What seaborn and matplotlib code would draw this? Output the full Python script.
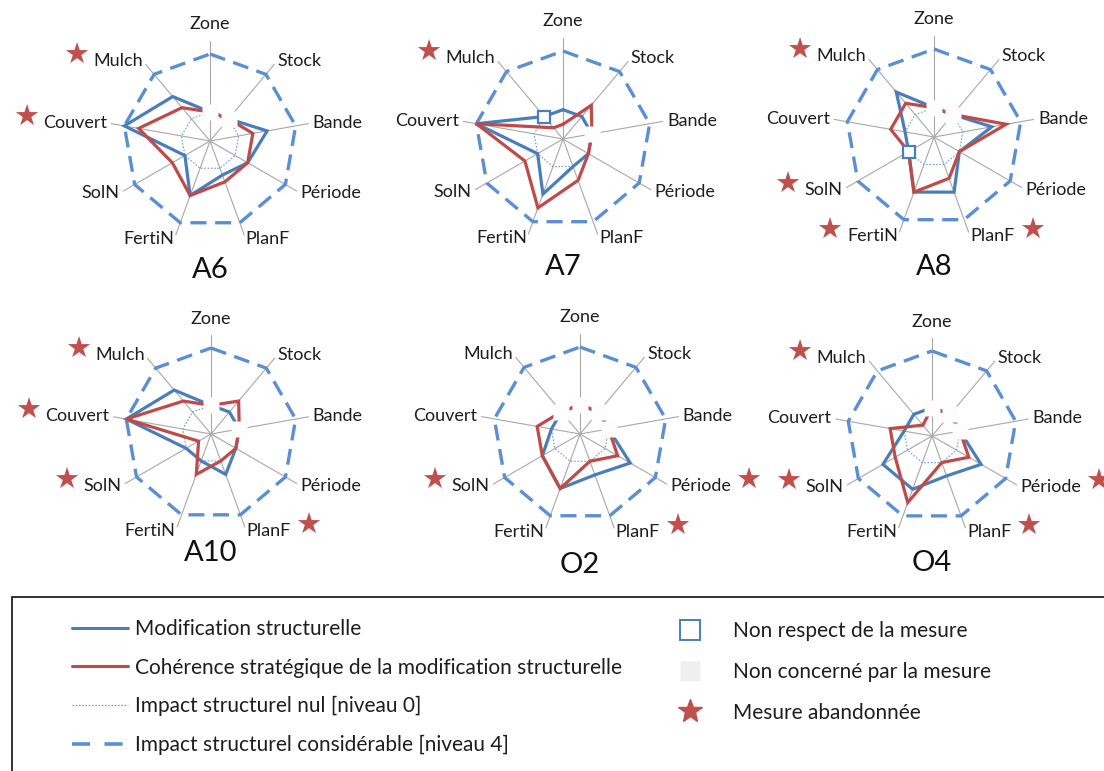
import numpy as np
import pandas as pd
import matplotlib
matplotlib.use("Agg")
import matplotlib.pyplot as plt
import seaborn as sns
from matplotlib.lines import Line2D
from matplotlib.patches import Rectangle

# ---------------- data ----------------
AXES = ["Zone", "Stock", "Bande", "Période", "PlanF", "FertiN", "SolN", "Couvert", "Mulch"]
CHARTS = ["A6", "A7", "A8", "A10", "O2", "O4"]

MODIF_A6 = [0, 0, 2, 1, 0.5, 2, 0, 4, 2]
MODIF_A7 = [0, 0, 0, 0, 0, 2, 0, 4, 0]
MODIF_A8 = [0, 0, 2, 0, 2, 2, 0, 0, 2]
MODIF_A10 = [0, 0, 0, 0, 1, 0, 0, 4, 2]
MODIF_O2 = [0, 0, 0, 2, 1, 2, 1, 0, 0]
MODIF_O4 = [0, 0, 0, 2, 1, 2, 2, 0, 0]

COHER_A6 = [0, 0, 1, 1, 1, 2, 1, 3, 1]
COHER_A7 = [-1, 1, 0, 0, 1, 3, 1, 4, -1]
COHER_A8 = [0, 0, 3, 0, 1, 2, 0, 1, 1]
COHER_A10 = [0, 1, 0, 0, 0, 1, -1, 4, 1]
COHER_O2 = [0, 0, 0, 1, 0, 2, 1, 1, 0]
COHER_O4 = [0, 0, 0, 1, 0, 3, 1, 1, -1]

NON_CONCERNE = {
    "A6": ["Zone", "Stock"],
    "A7": ["Bande"],
    "A8": ["Zone", "Stock"],
    "A10": ["Zone", "Bande"],
    "O2": ["Zone", "Stock", "Bande", "Mulch"],
    "O4": ["Zone", "Stock", "Bande"],
}
NON_RESPECT = {"A6": [], "A7": ["Mulch"], "A8": ["SolN"], "A10": [], "O2": [], "O4": []}
ABANDON = {
    "A6": ["Mulch", "Couvert"],
    "A7": ["Mulch"],
    "A8": ["Mulch", "SolN", "FertiN", "PlanF"],
    "A10": ["Mulch", "Couvert", "SolN", "PlanF"],
    "O2": ["SolN", "Période", "PlanF"],
    "O4": ["Mulch", "SolN", "Période", "PlanF"],
}

MODIF = {"A6": MODIF_A6, "A7": MODIF_A7, "A8": MODIF_A8, "A10": MODIF_A10, "O2": MODIF_O2, "O4": MODIF_O4}
COHER = {"A6": COHER_A6, "A7": COHER_A7, "A8": COHER_A8, "A10": COHER_A10, "O2": COHER_O2, "O4": COHER_O4}

LEVEL_NUL = 0
LEVEL_MAX = 4
R_MIN = -2

LEGEND_LINES = ["Modification structurelle",
                "Cohérence stratégique de la modification structurelle",
                "Impact structurel nul [niveau 0]",
                "Impact structurel considérable [niveau 4]"]
LEGEND_MARKS = ["Non respect de la mesure", "Non concerné par la mesure", "Mesure abandonnée"]

# ---------------- style / layout ----------------
BLUE = "#4a7ebb"
RED = "#be4b48"
DASH = "#5b8fd4"
DOT = "#6f9bd8"
STAR = "#c0504d"
SPOKE = "#a8a8a8"
NCGREY = "#fdfdfd"
TXT = "#1e1e1e"

W, H = 1104, 771
# cx, cy, radius (px), title offset (px)
LAYOUT = {
    "A6": (210, 141, 87, 129),
    "A7": (563, 139, 88, 128),
    "A8": (934, 137, 88, 130),
    "A10": (211, 434, 86, 119),
    "O2": (580, 434, 87, 131),
    "O4": (932, 436, 85, 127),
}

sns.set_theme(style="white")
plt.rcParams["font.family"] = ["Lato", "DejaVu Sans"]

fig = plt.figure(figsize=(W / 100, H / 100), dpi=100)
fig.patch.set_facecolor("white")

n = len(AXES)
theta = np.linspace(0, 2 * np.pi, n, endpoint=False)
theta_closed = np.append(theta, 2 * np.pi)

for name in CHARTS:
    cx, cy, R, toff = LAYOUT[name]
    ax = fig.add_axes([(cx - R) / W, 1 - (cy + R) / H, 2 * R / W, 2 * R / H], projection="polar")
    ax.set_theta_zero_location("N")
    ax.set_theta_direction(-1)
    ax.set_axis_off()

    # spokes
    for t in theta:
        ax.plot([t, t], [R_MIN, 4.9], color=SPOKE, lw=0.8, clip_on=False, zorder=1)

    # reference levels
    ax.plot(theta_closed, [LEVEL_MAX] * (n + 1), color=DASH, lw=2.4,
            ls=(0, (4.8, 2.6)), clip_on=False, zorder=2)
    ax.plot(theta_closed, [LEVEL_NUL] * (n + 1), color=DOT, lw=0.8,
            ls=(0, (1.5, 1.5)), clip_on=False, zorder=2)

    # data series
    m = MODIF[name]
    c = COHER[name]
    df_m = pd.DataFrame({"theta": theta_closed, "value": m + [m[0]]})
    df_c = pd.DataFrame({"theta": theta_closed, "value": c + [c[0]]})
    sns.lineplot(data=df_m, x="theta", y="value", sort=False, estimator=None, ax=ax,
                 color=BLUE, lw=2.3, solid_joinstyle="miter", clip_on=False, zorder=3)
    sns.lineplot(data=df_c, x="theta", y="value", sort=False, estimator=None, ax=ax,
                 color=RED, lw=2.3, solid_joinstyle="miter", clip_on=False, zorder=4)

    # non concerné markers
    idx = [AXES.index(a) for a in NON_CONCERNE[name]]
    if idx:
        ax.plot(theta[idx], [m[i] for i in idx], ls="none", marker="s", ms=11,
                mfc=NCGREY, mec="none", clip_on=False, zorder=6)
    # non respect markers
    idx = [AXES.index(a) for a in NON_RESPECT[name]]
    if idx:
        ax.plot(theta[idx], [m[i] for i in idx], ls="none", marker="s", ms=9,
                mfc="white", mec=BLUE, mew=1.6, clip_on=False, zorder=7)

    # category labels + stars
    for i, (t, lab) in enumerate(zip(theta, AXES)):
        s = np.sin(t)
        if abs(s) < 0.1:
            txt = ax.text(t, 6.05, lab, ha="center", va="center", fontsize=13, color=TXT, clip_on=False)
            side = 0
        elif s > 0:
            txt = ax.text(t, 5.2, lab, ha="left", va="center", fontsize=13, color=TXT, clip_on=False)
            side = 1
        else:
            txt = ax.text(t, 5.2, lab, ha="right", va="center", fontsize=13, color=TXT, clip_on=False)
            side = -1
        if lab in ABANDON[name]:
            xy = (1, 0.55) if side > 0 else (0, 0.55)
            ax.annotate("★", xy=xy, xycoords=txt, xytext=(12.5 * (1 if side > 0 else -1), 3),
                        textcoords="offset points", ha="center", va="center",
                        fontsize=21, color=STAR, family="DejaVu Sans", annotation_clip=False)

    ax.set_ylim(R_MIN, LEVEL_MAX)
    fig.text(cx / W, 1 - (cy + toff) / H, name, ha="center", va="center", fontsize=21, color="#111111")

# ---------------- legend ----------------
fig.patches.append(Rectangle((12 / W, -0.02), 1.2, (771 - 597) / H + 0.02, transform=fig.transFigure,
                             facecolor="white", edgecolor="#222222", lw=1.3, zorder=0))

h_lines = [
    Line2D([], [], color=BLUE, lw=2.2),
    Line2D([], [], color=RED, lw=2.2),
    Line2D([], [], color=DOT, lw=0.9, ls=(0, (1.3, 1.3))),
    Line2D([], [], color=DASH, lw=2.6, ls=(0, (5.0, 4.0))),
]
leg1 = fig.legend(h_lines, LEGEND_LINES, loc="upper left", bbox_to_anchor=(72 / W, 1 - 619 / H),
                  frameon=False, fontsize=15, handlelength=2.69, handletextpad=0.34,
                  labelspacing=0.89, borderpad=0, borderaxespad=0)
for t in leg1.get_texts():
    t.set_color(TXT)

h_marks = [
    Line2D([], [], ls="none", marker="s", ms=14, mfc="white", mec=BLUE, mew=1.4),
    Line2D([], [], ls="none", marker="s", ms=15, mfc="#efefef", mec="none"),
    Line2D([], [], ls="none", marker="*", ms=18, color=STAR, mec=STAR),
]
leg2 = fig.legend(h_marks, LEGEND_MARKS, loc="upper left", bbox_to_anchor=(674 / W, 1 - 621 / H),
                  frameon=False, fontsize=15, handlelength=1.55, handletextpad=1.3,
                  labelspacing=1.0, borderpad=0, borderaxespad=0)
for t in leg2.get_texts():
    t.set_color(TXT)

fig.savefig("out.png", dpi=100, facecolor="white")
